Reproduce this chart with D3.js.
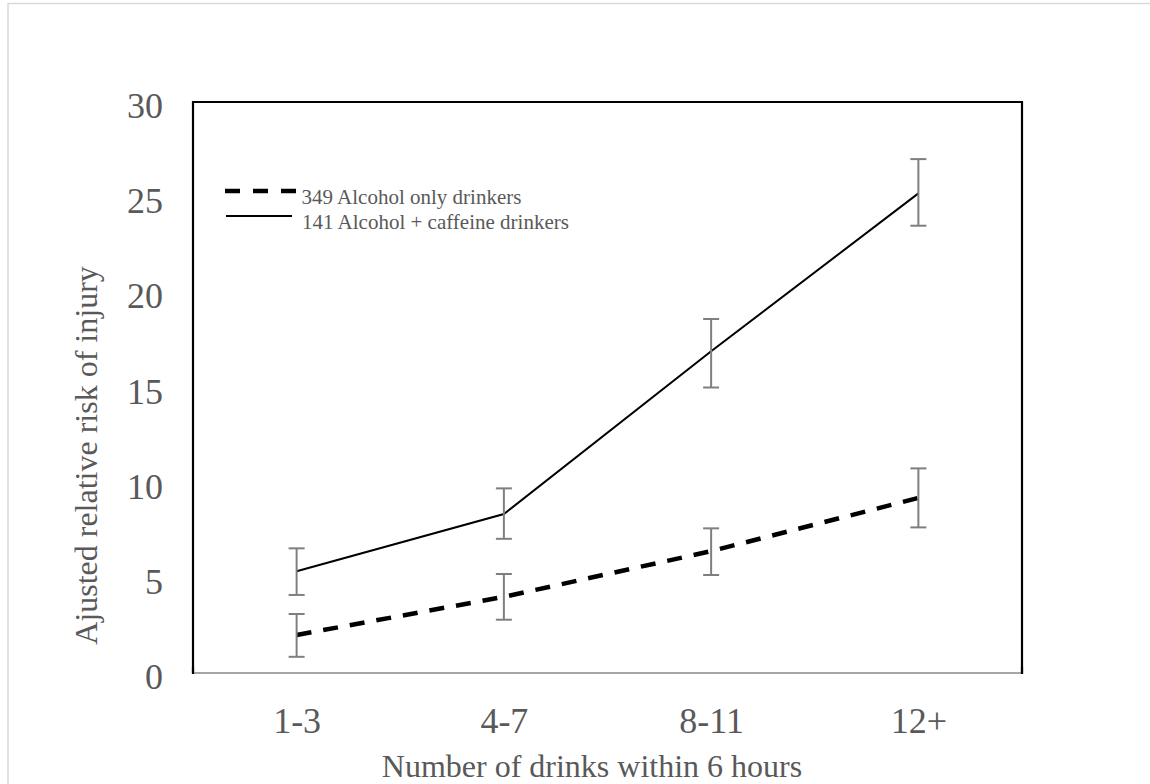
<!DOCTYPE html>
<html>
<head>
<meta charset="utf-8">
<script src="https://cdn.jsdelivr.net/npm/d3@7"></script>
<style>
  html, body { margin: 0; padding: 0; background: #fff; }
  svg { display: block; }
  text { font-family: "Liberation Serif", "Times New Roman", serif; }
</style>
</head>
<body>
<svg id="chart" width="1150" height="784"></svg>
<script>
// ---- Data ----
const categories = ["1-3", "4-7", "8-11", "12+"];
const alcoholOnly      = [2.0, 4.0, 6.4, 9.2];
const alcoholOnlyLow   = [0.85, 2.8, 5.15, 7.65];
const alcoholOnlyHigh  = [3.1, 5.2, 7.6, 10.75];
const caffeine         = [5.35, 8.35, 16.9, 25.2];
const caffeineLow      = [4.1, 7.05, 15.0, 23.5];
const caffeineHigh     = [6.55, 9.7, 18.6, 27.0];
const yTicks = [0, 5, 10, 15, 20, 25, 30];
const legendLabels = ["349 Alcohol only drinkers", "141 Alcohol + caffeine drinkers"];
const xTitle = "Number of drinks within 6 hours";
const yTitle = "Ajusted relative risk of injury";

// ---- Layout ----
const svg = d3.select("#chart");
const L = 193, R = 1022, T = 102, B = 673;
const x = d3.scalePoint().domain(categories).range([L, R]).padding(0.5);
const y = d3.scaleLinear().domain([0, 30]).range([B, T]);
const textColor = "#595959";

// outer chart frame (light gray)
svg.append("rect")
  .attr("x", 8).attr("y", 3.5).attr("width", 1160).attr("height", 800)
  .attr("fill", "none").attr("stroke", "#d9d9d9").attr("stroke-width", 1.5);

// plot border: top, left, right black
svg.append("path")
  .attr("d", `M${L},${B} L${L},${T} L${R},${T} L${R},${B}`)
  .attr("fill", "none").attr("stroke", "#000").attr("stroke-width", 2.2);

// Y axis (labels only)
const yAxis = d3.axisLeft(y).tickValues(yTicks).tickSize(0).tickPadding(0);
const gy = svg.append("g").attr("transform", `translate(163,0)`).call(yAxis);
gy.select(".domain").remove();
gy.selectAll("text")
  .attr("font-family", "'Liberation Serif', 'Times New Roman', serif")
  .attr("font-size", 36).attr("fill", textColor)
  .attr("dy", null).attr("y", 15.5).attr("x", 0).attr("text-anchor", "end");

// X axis
const xAxis = d3.axisBottom(x).tickSize(0).tickPadding(0);
const gx = svg.append("g").attr("transform", `translate(0,${B})`).call(xAxis);
gx.select(".domain")
  .attr("d", `M${L},0 H${R}`)
  .attr("stroke", "#a6a6a6").attr("stroke-width", 2);
gx.selectAll("text")
  .attr("font-family", "'Liberation Serif', 'Times New Roman', serif")
  .attr("font-size", 36).attr("fill", textColor)
  .attr("dy", null).attr("y", 60);

// redraw bottom corners of black border above gray line
svg.append("path")
  .attr("d", `M${L},${B - 6} L${L},${B + 1} M${R},${B - 6} L${R},${B + 1}`)
  .attr("stroke", "#000").attr("stroke-width", 2.2);

// Axis titles
svg.append("text")
  .attr("x", 592).attr("y", 777)
  .attr("text-anchor", "middle")
  .attr("font-size", 32).attr("fill", textColor)
  .text(xTitle);
svg.append("text")
  .attr("transform", `translate(97,455.5) rotate(-90)`)
  .attr("text-anchor", "middle")
  .attr("font-size", 32).attr("fill", textColor)
  .text(yTitle);

// Lines
const line = d3.line().x((d, i) => x(categories[i])).y(d => y(d));
svg.append("path")
  .datum(caffeine)
  .attr("d", line)
  .attr("fill", "none").attr("stroke", "#000").attr("stroke-width", 2);
svg.append("path")
  .datum(alcoholOnly)
  .attr("d", line)
  .attr("fill", "none").attr("stroke", "#000").attr("stroke-width", 4.5)
  .attr("stroke-dasharray", "15,12");

// Error bars
function errorBars(low, high) {
  const g = svg.append("g").attr("stroke", "#7f7f7f").attr("stroke-width", 2).attr("fill", "none");
  categories.forEach((c, i) => {
    const cx = x(c);
    g.append("line").attr("x1", cx).attr("x2", cx).attr("y1", y(low[i])).attr("y2", y(high[i]));
    g.append("line").attr("x1", cx - 8).attr("x2", cx + 8).attr("y1", y(low[i])).attr("y2", y(low[i]));
    g.append("line").attr("x1", cx - 8).attr("x2", cx + 8).attr("y1", y(high[i])).attr("y2", y(high[i]));
  });
}
errorBars(alcoholOnlyLow, alcoholOnlyHigh);
errorBars(caffeineLow, caffeineHigh);

// Legend
const lg = svg.append("g");
lg.append("line").attr("x1", 225).attr("x2", 296).attr("y1", 191).attr("y2", 191)
  .attr("stroke", "#000").attr("stroke-width", 4.5).attr("stroke-dasharray", "15,13");
lg.append("line").attr("x1", 226).attr("x2", 292).attr("y1", 216).attr("y2", 216)
  .attr("stroke", "#000").attr("stroke-width", 2);
lg.append("text").attr("x", 301.5).attr("y", 203.5)
  .attr("font-size", 21).attr("fill", textColor).text(legendLabels[0]);
lg.append("text").attr("x", 302).attr("y", 228.5)
  .attr("font-size", 21).attr("fill", textColor).text(legendLabels[1]);
</script>
</body>
</html>
